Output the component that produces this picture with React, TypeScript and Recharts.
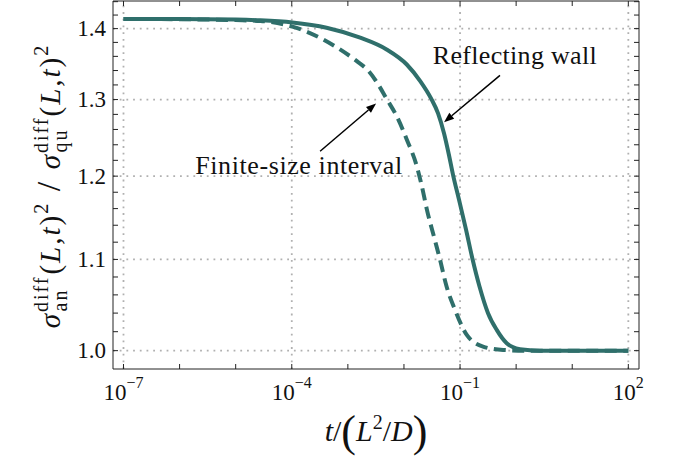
import React from 'react';
import { LineChart, Line, XAxis, YAxis, ReferenceLine, ReferenceDot } from 'recharts';

// reflecting wall (solid)
const wallLogT = [-7, -6, -5, -4.56, -3.99, -3.38, -2.78, -2.31, -1.95, -1.71, -1.517, -1.392, -1.285, -1.196, -1.125, -1.018, -0.893, -0.778, -0.653, -0.501, -0.346, -0.168, 0.069, 0.425, 1, 2];
const wallRatio = [1.4142, 1.414, 1.4133, 1.4122, 1.409, 1.4013, 1.3868, 1.3699, 1.3485, 1.3253, 1.3015, 1.2813, 1.2547, 1.2262, 1.2016, 1.1707, 1.1347, 1.1005, 1.0693, 1.0399, 1.0219, 1.0078, 1.0015, 1.0, 1.0, 1.0];

// finite-size interval (dashed)
const intervalLogT = [-7, -6, -5, -4.56, -3.99, -3.5, -3.14, -2.84, -2.63, -2.46, -2.31, -2.13, -1.95, -1.77, -1.68, -1.59, -1.45, -1.36, -1.24, -1.09, -0.88, -0.59, -0.23, 0.2, 1, 2];
const intervalRatio = [1.4142, 1.4138, 1.4125, 1.4112, 1.403, 1.3868, 1.3699, 1.3532, 1.3392, 1.3207, 1.3011, 1.2777, 1.2469, 1.2123, 1.1872, 1.1585, 1.1228, 1.1005, 1.0693, 1.0436, 1.0166, 1.0042, 1.0007, 1.0, 1.0, 1.0];

const xTicks = [1e-7, 1e-6, 1e-5, 1e-4, 1e-3, 1e-2, 1e-1, 1, 10, 100];
const xLabelExps = [-7, -4, -1, 2];
const yTicks = [1.0, 1.02, 1.04, 1.06, 1.08, 1.1, 1.12, 1.14, 1.16, 1.18, 1.2, 1.22, 1.24, 1.26, 1.28, 1.3, 1.32, 1.34, 1.36, 1.38, 1.4, 1.42, 1.44];
const yLabels = [1.0, 1.1, 1.2, 1.3, 1.4];
const xGrid = [1e-7, 1e-4, 1e-1, 1e2];

const wallData = wallLogT.map((e, i) => ({ t: Math.pow(10, e), v: wallRatio[i] }));
const intervalData = intervalLogT.map((e, i) => ({ t: Math.pow(10, e), v: intervalRatio[i] }));

const arrows = [
  { from: { x: Math.pow(10, -0.288), y: 1.3333 }, to: { x: Math.pow(10, -1.285), y: 1.2696 } },
  { from: { x: Math.pow(10, -3.495), y: 1.2317 }, to: { x: Math.pow(10, -2.497), y: 1.2947 } },
];
const notes = [
  { text: 'Reflecting wall', x: Math.pow(10, -1.487), y: 1.3496, len: 164 },
  { text: 'Finite-size interval', x: Math.pow(10, -5.722), y: 1.2032, len: 207 },
];

const FONT = "'Liberation Serif', 'Times New Roman', serif";
const AXIS = '#222';
const TEAL = '#2f6f6b';

const BottomTick = ({ x, y, payload }: any) => {
  const e = Math.round(Math.log10(payload.value));
  return (
    <g>
      <line x1={x} y1={y} x2={x} y2={y - 5} stroke={AXIS} />
      {xLabelExps.includes(e) && (
        <text x={x} y={y + 31} textAnchor="middle" fontFamily={FONT} fontSize={23} fill="#111">
          10<tspan fontSize={16} dy={-12}>{e < 0 ? '\u2212' + -e : e}</tspan>
        </text>
      )}
    </g>
  );
};

const TopTick = ({ x, y }: any) => <line x1={x} y1={y} x2={x} y2={y + 5} stroke={AXIS} />;

const LeftTick = ({ x, y, payload }: any) => {
  const lab = yLabels.find((l) => Math.abs(l - payload.value) < 1e-6);
  return (
    <g>
      <line x1={x} y1={y} x2={x + 5} y2={y} stroke={AXIS} />
      {lab !== undefined && (
        <text x={x - 7} y={y + 7.5} textAnchor="end" fontFamily={FONT} fontSize={23} fill="#111">
          {lab.toFixed(1)}
        </text>
      )}
    </g>
  );
};

const RightTick = ({ x, y }: any) => <line x1={x} y1={y} x2={x - 5} y2={y} stroke={AXIS} />;

const Arrow = (p: any) => {
  const { x1, y1, x2, y2 } = p;
  const dx = x2 - x1;
  const dy = y2 - y1;
  const len = Math.hypot(dx, dy);
  const ux = dx / len;
  const uy = dy / len;
  const hl = 10;
  const hw = 3.8;
  const bx = x2 - ux * hl;
  const by = y2 - uy * hl;
  return (
    <g>
      <line x1={x1} y1={y1} x2={bx} y2={by} stroke="#000" strokeWidth={1.5} />
      <polygon points={`${x2},${y2} ${bx - uy * hw},${by + ux * hw} ${bx + uy * hw},${by - ux * hw}`} fill="#000" />
    </g>
  );
};

const script = { fontSize: 20 };
const it = { fontStyle: 'italic' as const };

export default function App() {
  return (
    <div style={{ position: 'absolute', left: 0, top: 0, width: 678, height: 460 }}>
      <LineChart width={678} height={460} margin={{ top: 0, right: 38, bottom: 51, left: 53 }}>
        <XAxis
          dataKey="t"
          type="number"
          scale="log"
          domain={[6.5e-8, 155]}
          allowDataOverflow
          ticks={xTicks}
          interval={0}
          height={40}
          tickSize={0}
          tickMargin={0}
          tickLine={false}
          axisLine={{ stroke: AXIS }}
          tick={<BottomTick />}
        />
        <XAxis
          xAxisId="top"
          orientation="top"
          dataKey="t"
          type="number"
          scale="log"
          domain={[6.5e-8, 155]}
          allowDataOverflow
          ticks={xTicks}
          interval={0}
          height={1}
          tickSize={0}
          tickMargin={0}
          tickLine={false}
          axisLine={{ stroke: AXIS }}
          tick={<TopTick />}
        />
        <YAxis
          type="number"
          scale="log"
          domain={[0.981, 1.441]}
          allowDataOverflow
          ticks={yTicks}
          interval={0}
          width={60}
          tickSize={0}
          tickMargin={0}
          tickLine={false}
          axisLine={{ stroke: AXIS }}
          tick={<LeftTick />}
        />
        <YAxis
          yAxisId="right"
          orientation="right"
          type="number"
          scale="log"
          domain={[0.981, 1.441]}
          allowDataOverflow
          ticks={yTicks}
          interval={0}
          width={1}
          tickSize={0}
          tickMargin={0}
          tickLine={false}
          axisLine={{ stroke: AXIS }}
          tick={<RightTick />}
        />
        {xGrid.map((g) => (
          <ReferenceLine key={'gx' + g} x={g} stroke="#b0b0b0" strokeWidth={1.8} strokeDasharray="1.8 4.9" />
        ))}
        {yLabels.map((g) => (
          <ReferenceLine key={'gy' + g} y={g} stroke="#b0b0b0" strokeWidth={1.8} strokeDasharray="1.8 4.9" />
        ))}
        <Line
          data={intervalData}
          dataKey="v"
          type="monotone"
          stroke={TEAL}
          strokeWidth={4}
          strokeDasharray="12 6.5"
          dot={false}
          activeDot={false}
          isAnimationActive={false}
        />
        <Line
          data={wallData}
          dataKey="v"
          type="monotone"
          stroke={TEAL}
          strokeWidth={4}
          dot={false}
          activeDot={false}
          isAnimationActive={false}
        />
        {arrows.map((a, i) => (
          <ReferenceLine key={'a' + i} segment={[a.from, a.to]} shape={<Arrow />} />
        ))}
        {notes.map((n) => (
          <ReferenceDot
            key={n.text}
            x={n.x}
            y={n.y}
            r={0}
            shape={(p: any) => (
              <text
                x={p.cx}
                y={p.cy}
                fontFamily={FONT}
                fontSize={26}
                fill="#111"
                textLength={n.len}
                lengthAdjust="spacing"
              >
                {n.text}
              </text>
            )}
          />
        ))}
      </LineChart>
      <svg
        width={678}
        height={460}
        style={{ position: 'absolute', left: 0, top: 0, pointerEvents: 'none' }}
      >
        <text
          x={376}
          y={441}
          textAnchor="middle"
          fontFamily={FONT}
          fontSize={30}
          fill="#111"
        >
          <tspan {...it}>t</tspan>/<tspan fontSize={44} dy={5}>(</tspan>
          <tspan {...it} dy={-5}>L</tspan>
          <tspan fontSize={20} dy={-12}>2</tspan>
          <tspan dy={12}>/</tspan>
          <tspan {...it}>D</tspan>
          <tspan fontSize={44} dy={5}>)</tspan>
        </text>
        <text
          transform="translate(60,186) rotate(-90)"
          textAnchor="middle"
          fontFamily={FONT}
          fontSize={29}
          fill="#111"
          style={{ fontVariantLigatures: 'none', letterSpacing: 2 }}
        >
          <tspan {...it}>σ</tspan>
          <tspan {...script} dy={-12}>diff</tspan>
          <tspan {...script} dx={-36} dy={19}>an</tspan>
          <tspan dx={14} dy={-7}>(</tspan>
          <tspan {...it}>L</tspan>,<tspan {...it}>t</tspan>)
          <tspan {...script} dy={-12}>2</tspan>
          <tspan dy={12} fontSize={34}> / </tspan>
          <tspan {...it}>σ</tspan>
          <tspan {...script} dy={-12}>diff</tspan>
          <tspan {...script} dx={-36} dy={19}>qu</tspan>
          <tspan dx={12} dy={-7}>(</tspan>
          <tspan {...it}>L</tspan>,<tspan {...it}>t</tspan>)
          <tspan {...script} dy={-12}>2</tspan>
        </text>
      </svg>
    </div>
  );
}
